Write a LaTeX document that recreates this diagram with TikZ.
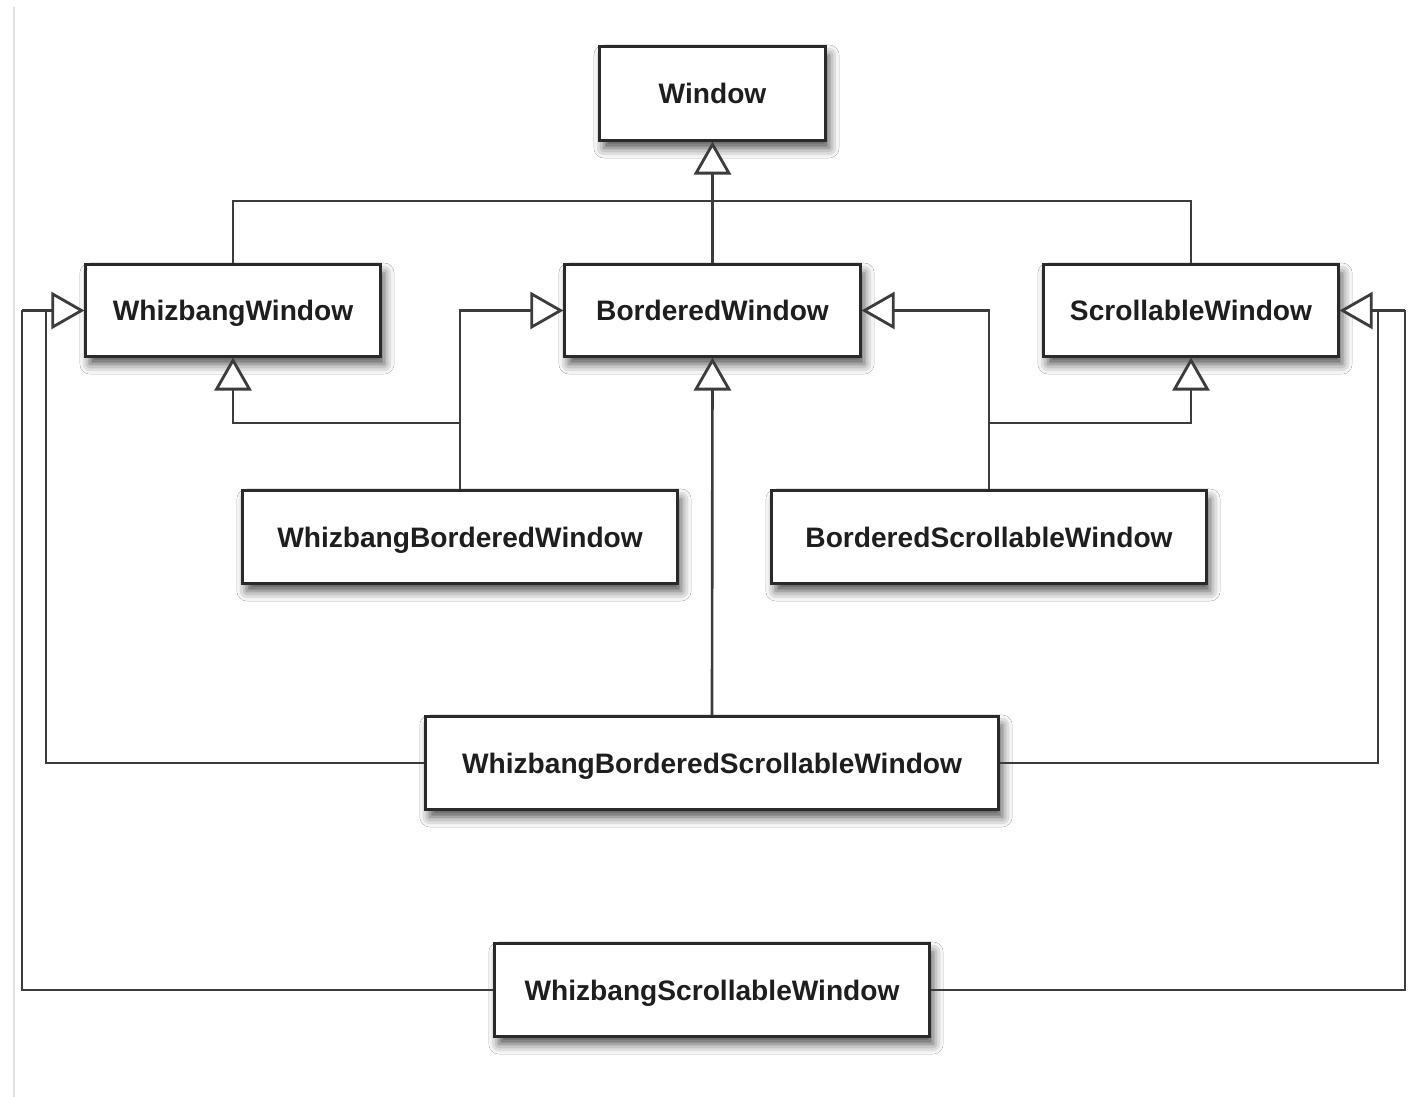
\documentclass[tikz,border=0pt]{standalone}
\usepackage{fontspec}
\setmainfont{Liberation Sans}
\usetikzlibrary{arrows.meta,shadows.blur}

\definecolor{edgegray}{HTML}{3C3C3C}
\definecolor{boxgray}{HTML}{2A2A2A}
\definecolor{textgray}{HTML}{1E1E1E}
\definecolor{pageline}{HTML}{E2E2E2}

\tikzset{
  classbox/.style={
    draw=boxgray, line width=0.85pt, fill=white, rectangle,
    minimum height=0.92cm, inner sep=0pt,
    text height=5.8pt, text depth=0pt,
    font=\fontsize{8}{9.6}\selectfont\bfseries, text=textgray,
    blur shadow={shadow xshift=0.04cm, shadow yshift=-0.08cm,
                 shadow blur radius=0.1cm, shadow opacity=70}
  },
  inherits/.style={
    draw=edgegray, line width=0.75pt,
    -{Triangle[open, length=0.33cm, width=0.37cm, fill=white, line width=0.8pt]}
  },
  joint/.style={draw=edgegray, line width=0.75pt}
}

\begin{document}
\begin{tikzpicture}[x=0.01cm, y=-0.01cm]
  \useasboundingbox (0,0) rectangle (1408,1097);
  \fill[white] (0,0) rectangle (1408,1097);

  % page edge
  \draw[pageline, line width=0.6pt] (14,7) -- (14,1097);

  % classes
  \node[classbox, minimum width=2.25cm, minimum height=0.93cm] (win)  at (712.5,93.5) {Window};
  \node[classbox, minimum width=2.94cm, minimum height=0.91cm] (ww)   at (233,310.5)  {WhizbangWindow};
  \node[classbox, minimum width=2.95cm, minimum height=0.91cm] (bw)   at (712.5,310.5){BorderedWindow};
  \node[classbox, minimum width=2.94cm, minimum height=0.91cm] (sw)   at (1191,310.5) {ScrollableWindow};
  \node[classbox, minimum width=4.34cm] (wbw)  at (460,537)  {WhizbangBorderedWindow};
  \node[classbox, minimum width=4.34cm] (bsw)  at (989,537)  {BorderedScrollableWindow};
  \node[classbox, minimum width=5.72cm] (wbsw) at (712,763)  {WhizbangBorderedScrollableWindow};
  \node[classbox, minimum width=4.34cm] (wsw)  at (712,990)  {WhizbangScrollableWindow};

  % routing columns and rows
  \coordinate (top)  at (712,201);
  \coordinate (midrow) at (0,423);
  \coordinate (l1) at (46,0);
  \coordinate (l2) at (22,0);
  \coordinate (r1) at (1378,0);
  \coordinate (r2) at (1405,0);

  % first level: all three derive from Window
  \draw[joint] (ww.north) -- (ww.north |- top) -- (sw.north |- top) -- (sw.north);
  \draw[inherits] (bw.north) -- (win.south);

  % WhizbangBorderedWindow
  \draw[inherits] (wbw.north) -- (wbw.north |- midrow) -| (ww.south);
  \draw[inherits] (wbw.north) |- (bw.west);

  % BorderedScrollableWindow
  \draw[inherits] (bsw.north) -- (bsw.north |- midrow) -| (sw.south);
  \draw[inherits] (bsw.north) |- (bw.east);

  % WhizbangBorderedScrollableWindow
  \draw[inherits] (wbsw.north) -- (bw.south);
  \draw[joint] (wbsw.west) -| (l1 |- ww.west);
  \draw[joint] (wbsw.east) -| (r1 |- sw.east);

  % WhizbangScrollableWindow
  \draw[joint] (wsw.west) -| (l2 |- ww.west);
  \draw[joint] (wsw.east) -| (r2 |- sw.east);

  % side arrows into WhizbangWindow and ScrollableWindow
  \draw[inherits] (l2 |- ww.west) -- (ww.west);
  \draw[inherits] (r2 |- sw.east) -- (sw.east);
\end{tikzpicture}
\end{document}
